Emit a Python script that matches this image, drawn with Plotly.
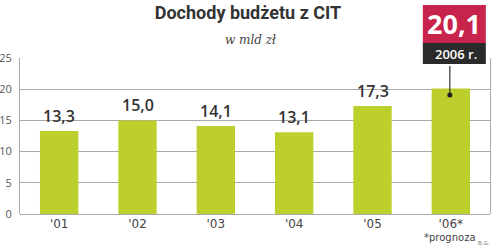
import plotly.graph_objects as go

years = ["'01", "'02", "'03", "'04", "'05", "'06*"]
values = [13.3, 15.0, 14.1, 13.1, 17.3, 20.1]
value_labels = ["13,3", "15,0", "14,1", "13,1", "17,3", "20,1"]
y_ticks = [0, 5, 10, 15, 20, 25]
highlight_year = "2006 r."

BAR = "#bdcf2c"
RED = "#c8234b"
DARK = "#2a2a2a"
GRID = "#a8a8a8"

W, H = 499, 249
ML, MR, MT, MB = 20, 9, 58, 35
PW, PH = W - ML - MR, H - MT - MB

n = len(years)
last = n - 1

fig = go.Figure()
fig.add_trace(go.Bar(x=list(range(n)), y=values, marker_color=BAR,
                     marker_line_width=0, width=0.49, hoverinfo="skip"))

for i, (v, lab) in enumerate(zip(values[:-1], value_labels[:-1])):
    fig.add_annotation(x=i, y=v, xref="x", yref="y", text=lab, showarrow=False,
                       yanchor="bottom", yshift=2,
                       font=dict(family="Open Sans", size=16, color="#333333", weight=600))

# callout for the last bar: position of its category in paper units
xc = (last + 0.5) / n


def px(dx):
    return xc + dx / PW


def py(dy):  # pixels above the top of the plot area
    return 1 + dy / PH


fig.add_shape(type="line", xref="paper", yref="paper", x0=px(-1), x1=px(-1),
              y0=py(-6), y1=(values[last] / 25) - 6 / PH,
              line=dict(color="#333333", width=1.2), layer="above")
fig.add_shape(type="rect", xref="paper", yref="paper", x0=px(-30), x1=px(37),
              y0=py(-8), y1=py(55), fillcolor="white", line=dict(width=0), layer="above")
fig.add_shape(type="rect", xref="paper", yref="paper", x0=px(-28), x1=px(35),
              y0=py(15), y1=py(53), fillcolor=RED, line=dict(width=0), layer="above")
fig.add_shape(type="rect", xref="paper", yref="paper", x0=px(-28), x1=px(35),
              y0=py(-6), y1=py(15), fillcolor=DARK, line=dict(width=0), layer="above")
fig.add_shape(type="circle", xref="paper", yref="paper",
              x0=px(-3.5), x1=px(1.5),
              y0=values[last] / 25 - 9 / PH, y1=values[last] / 25 - 4 / PH,
              fillcolor="#222222", line=dict(width=0), layer="above")

fig.add_annotation(x=px(3.5), y=py(34), xref="paper", yref="paper",
                   text="<b>" + value_labels[last] + "</b>", showarrow=False,
                   xanchor="center", yanchor="middle",
                   font=dict(family="Open Sans", size=27, color="white"))
fig.add_annotation(x=px(5), y=py(4), xref="paper", yref="paper", text=highlight_year,
                   showarrow=False, xanchor="center", yanchor="middle",
                   font=dict(family="Open Sans", size=13, color="white", weight=600))

fig.add_annotation(x=0.5, y=1, xref="paper", yref="paper", yanchor="middle", yshift=18,
                   text="<i>w mld zł</i>", showarrow=False, xshift=-5,
                   font=dict(family="DejaVu Serif", size=12, color="#444444"))
fig.add_annotation(x=last, y=0, xref="x", yref="y", text="*prognoza", showarrow=False,
                   yshift=-16, yanchor="top", xshift=-1,
                   font=dict(family="DejaVu Sans", size=10, color="#444444"))
fig.add_annotation(x=1, y=0, xref="paper", yref="y", text="B.G.", showarrow=False,
                   xanchor="right", xshift=2, yshift=-23, yanchor="top",
                   font=dict(family="Open Sans", size=6, color="#777777"))

fig.update_layout(
    width=W, height=H,
    margin=dict(l=ML, r=MR, t=MT, b=MB),
    paper_bgcolor="white", plot_bgcolor="white",
    showlegend=False,
    title=dict(text="<b>Dochody budżetu z CIT</b>", x=0.497, xanchor="center",
               y=1 - 13 / H, yanchor="middle",
               font=dict(family="Roboto", size=18, color="#333333")),
    xaxis=dict(tickmode="array", tickvals=list(range(n)), ticktext=years,
               range=[-0.5, n - 0.5], showgrid=False, zeroline=False,
               showline=False, ticks="", ticklabelstandoff=1, automargin=False,
               tickfont=dict(family="DejaVu Sans", size=12, color="#444444")),
    yaxis=dict(range=[0, 25], tickvals=y_ticks, showgrid=True, gridcolor=GRID,
               gridwidth=1, zeroline=True, zerolinecolor=GRID, zerolinewidth=1,
               showline=True, linecolor=GRID, linewidth=1, mirror=True, ticks="",
               ticklabelstandoff=5, automargin=False,
               tickfont=dict(family="Open Sans", size=11, color="#555555")),
)
fig.write_html("out.html")
